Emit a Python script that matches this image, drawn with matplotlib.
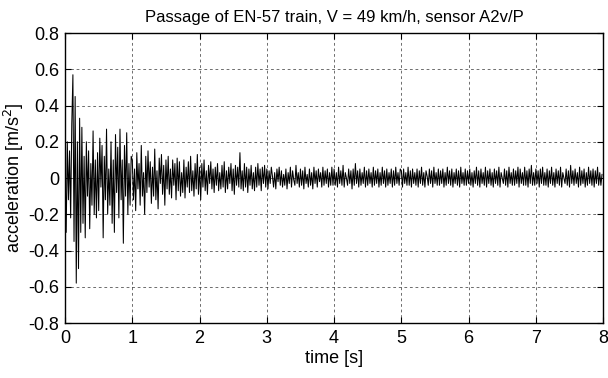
import matplotlib
matplotlib.use("Agg")
import matplotlib.pyplot as plt
import numpy as np

# ── Dane (60 próbek na sekundę) ────────────────────────────────────────────────
acc_0s = [0.05, -0.30, 0.20, -0.12, 0.15, -0.22, 0.30, 0.57, -0.35, 0.45,
          -0.58, 0.20, -0.50, 0.33, -0.30, 0.28, -0.25, 0.12, -0.33, 0.20,
          -0.10, 0.15, -0.28, 0.08, -0.15, 0.26, -0.20, 0.10, -0.22, 0.14,
          -0.18, 0.22, -0.05, 0.18, -0.33, 0.12, -0.12, 0.27, -0.20, 0.05,
          -0.15, 0.20, -0.25, 0.10, -0.30, 0.24, -0.08, 0.17, -0.22, 0.27,
          -0.12, 0.10, -0.36, 0.18, -0.10, 0.25, -0.20, 0.08, -0.15, 0.12]
acc_1s = [0.10, -0.12, 0.05, -0.18, 0.14, -0.06, 0.08, -0.15, 0.18, -0.10,
          0.03, -0.20, 0.12, -0.08, 0.15, -0.05, 0.09, -0.14, 0.06, -0.10,
          0.16, -0.12, 0.04, -0.17, 0.11, -0.03, 0.13, -0.09, 0.07, -0.15,
          0.10, -0.06, 0.12, -0.09, 0.05, -0.11, 0.10, -0.04, 0.08, -0.12,
          0.11, -0.07, 0.09, -0.10, 0.03, -0.08, 0.10, -0.11, 0.06, -0.05,
          0.09, -0.08, 0.12, -0.07, 0.04, -0.10, 0.08, -0.06, 0.13, -0.09]
acc_2s = [0.06, -0.12, 0.08, -0.05, 0.10, -0.07, 0.04, -0.09, 0.07, -0.03,
          0.09, -0.06, 0.05, -0.08, 0.06, -0.04, 0.08, -0.07, 0.03, -0.06,
          0.07, -0.05, 0.09, -0.08, 0.04, -0.06, 0.06, -0.03, 0.08, -0.07,
          0.05, -0.09, 0.07, -0.04, 0.06, -0.05, 0.14, -0.06, 0.04, -0.07,
          0.08, -0.05, 0.06, -0.08, 0.05, -0.04, 0.07, -0.06, 0.03, -0.07,
          0.06, -0.05, 0.08, -0.04, 0.05, -0.07, 0.06, -0.03, 0.07, -0.05]
acc_3s = [0.05, -0.06, 0.04, -0.03, 0.06, 0.01, -0.05, 0.03, -0.06, 0.05,
          -0.02, 0.06, -0.04, 0.04, -0.05, 0.02, -0.04, 0.05, -0.06, 0.03,
          -0.03, 0.06, -0.05, 0.04, -0.01, -0.04, 0.07, -0.03, 0.03, -0.05,
          0.05, -0.04, 0.04, -0.06, 0.06, -0.03, 0.02, -0.05, 0.05, -0.04,
          0.03, -0.06, 0.06, -0.03, 0.04, -0.05, 0.05, -0.02, 0.03, -0.05,
          0.06, -0.04, 0.04, -0.03, 0.05, -0.05, 0.03, -0.04, 0.06, -0.04]
acc_4s = [0.05, -0.04, 0.03, -0.05, 0.06, -0.03, 0.04, -0.04, 0.07, -0.05,
          0.03, 0.00, -0.04, 0.05, -0.03, 0.04, -0.06, 0.05, -0.04, 0.08,
          -0.03, 0.04, -0.05, 0.05, -0.04, 0.03, -0.03, 0.06, -0.05, 0.04,
          -0.04, 0.05, -0.03, 0.03, -0.05, 0.06, -0.04, 0.04, -0.03, 0.05,
          -0.05, 0.03, -0.04, 0.06, -0.03, 0.04, -0.05, 0.05, -0.04, 0.03,
          -0.03, 0.05, -0.05, 0.04, -0.04, 0.06, -0.03, 0.03, -0.04, 0.05]
acc_5s = [0.04, -0.05, 0.05, -0.03, 0.03, -0.04, 0.06, -0.04, 0.04, -0.05,
          0.05, -0.03, 0.03, -0.04, 0.05, -0.05, 0.04, -0.03, 0.06, -0.04,
          0.03, -0.05, 0.04, 0.01, -0.04, 0.05, -0.03, 0.04, -0.05, 0.06,
          -0.03, 0.03, -0.04, 0.05, -0.04, 0.04, -0.03, 0.05, -0.05, 0.03,
          -0.04, 0.06, -0.03, 0.04, -0.04, 0.05, -0.05, 0.03, -0.03, 0.05,
          -0.04, 0.04, -0.05, 0.06, -0.03, 0.03, -0.04, 0.05, -0.04, 0.04]
acc_6s = [-0.03, 0.05, -0.04, 0.03, -0.05, 0.04, -0.03, 0.06, -0.04, 0.04,
          -0.05, 0.05, -0.03, 0.03, -0.04, 0.06, -0.05, 0.04, -0.03, 0.05,
          -0.04, 0.03, -0.05, 0.05, -0.03, 0.04, -0.04, 0.06, -0.05, 0.03,
          0.00, -0.03, 0.05, -0.04, 0.04, -0.05, 0.06, -0.03, 0.03, -0.04,
          0.05, -0.04, 0.04, -0.03, 0.06, -0.05, 0.05, -0.03, 0.03, -0.04,
          0.06, -0.04, 0.04, -0.05, 0.05, -0.03, 0.07, -0.04, 0.03, -0.04]
acc_7s = [0.05, -0.03, 0.04, -0.05, 0.05, -0.03, 0.06, -0.04, 0.03, -0.04,
          0.05, -0.05, 0.04, -0.03, 0.06, -0.04, 0.03, -0.05, 0.05, -0.03,
          0.04, -0.04, 0.06, -0.05, 0.03, 0.00, -0.03, 0.05, -0.04, 0.04,
          -0.05, 0.07, -0.03, 0.04, -0.04, 0.05, -0.03, 0.03, -0.05, 0.06,
          -0.04, 0.04, -0.03, 0.05, -0.05, 0.03, -0.04, 0.06, -0.03, 0.04,
          -0.04, 0.05, -0.05, 0.04, -0.03, 0.06, -0.04, 0.03, -0.04, 0.02]

FS = 60  # próbek na sekundę
x_ticks = [0, 1, 2, 3, 4, 5, 6, 7, 8]
y_ticks = [-0.8, -0.6, -0.4, -0.2, 0, 0.2, 0.4, 0.6, 0.8]
y_tick_labels = ["-0.8", "-0.6", "-0.4", "-0.2", "0", "0.2", "0.4", "0.6", "0.8"]

acc = np.concatenate([acc_0s, acc_1s, acc_2s, acc_3s, acc_4s, acc_5s, acc_6s, acc_7s])
t = np.arange(len(acc)) / FS

plt.rcParams["font.family"] = ["Liberation Sans", "DejaVu Sans"]

fig = plt.figure(figsize=(6.08, 3.78), dpi=100)
ax = fig.add_axes([0.107, 0.1455, 0.885, 0.767])

ax.plot(t, acc, color="black", linewidth=0.75)

ax.set_xlim(0, 8)
ax.set_ylim(-0.8, 0.8)
ax.set_xticks(x_ticks)
ax.set_yticks(y_ticks)
ax.set_yticklabels(y_tick_labels)
ax.tick_params(direction="in", length=4, width=0.8, labelsize=13,
               top=True, right=True)
ax.tick_params(axis="x", pad=5)
ax.tick_params(axis="y", pad=4)
ax.grid(True, color="black", linestyle=(0, (4, 4)), linewidth=0.5, alpha=0.8)
for s in ax.spines.values():
    s.set_linewidth(1.0)

ax.set_xlabel("time [s]", fontsize=13, labelpad=2)
ax.set_ylabel("acceleration [m/s$^2$]", fontsize=13, labelpad=2)
ax.set_title("Passage of EN-57 train, V = 49 km/h, sensor A2v/P", fontsize=12, pad=8)

fig.savefig("out.png", dpi=100)
